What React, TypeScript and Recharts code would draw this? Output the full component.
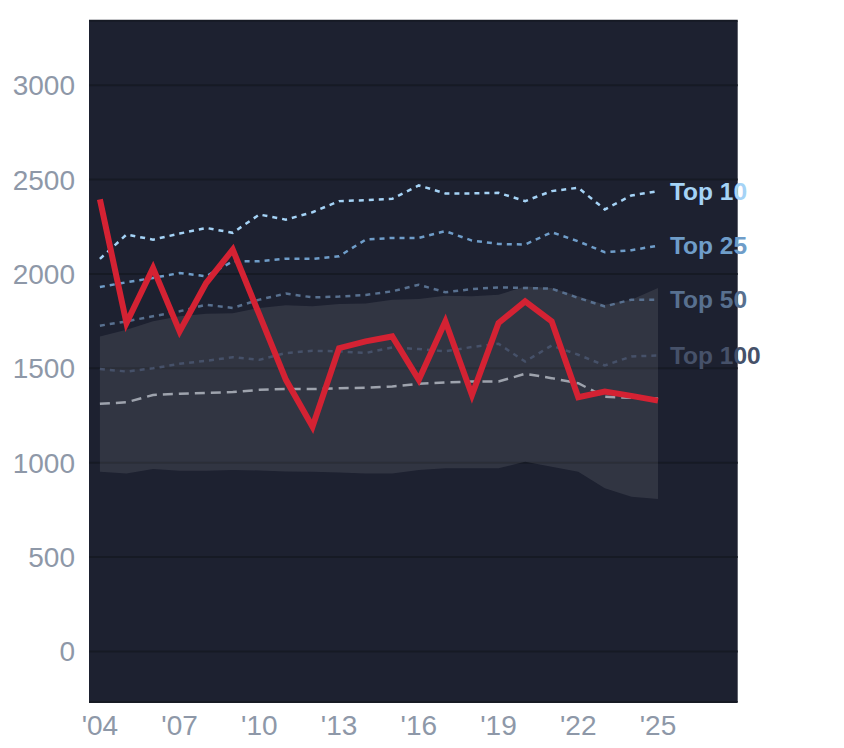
import React from "react";
import { ComposedChart, Line, Area, XAxis, YAxis, CartesianGrid } from "recharts";

const years = [2004, 2005, 2006, 2007, 2008, 2009, 2010, 2011, 2012, 2013, 2014, 2015, 2016, 2017, 2018, 2019, 2020, 2021, 2022, 2023, 2024, 2025];
const mainSeries = [2395, 1740, 2032, 1696, 1952, 2129, 1784, 1439, 1191, 1607, 1643, 1669, 1439, 1749, 1359, 1740, 1855, 1749, 1347, 1377, 1354, 1329];
const top10 = [2080, 2209, 2182, 2214, 2244, 2218, 2315, 2288, 2327, 2386, 2391, 2398, 2469, 2427, 2427, 2430, 2386, 2439, 2457, 2342, 2416, 2439];
const top25 = [1931, 1956, 1979, 2005, 1988, 2067, 2067, 2081, 2080, 2094, 2182, 2191, 2191, 2227, 2177, 2159, 2156, 2221, 2173, 2115, 2126, 2150];
const top50 = [1726, 1749, 1776, 1802, 1837, 1820, 1864, 1896, 1876, 1880, 1889, 1908, 1943, 1903, 1920, 1929, 1926, 1922, 1873, 1828, 1864, 1864];
const top100 = [1497, 1483, 1500, 1524, 1540, 1559, 1545, 1581, 1593, 1590, 1581, 1611, 1602, 1590, 1613, 1630, 1536, 1621, 1572, 1515, 1563, 1568];
const median = [1312, 1320, 1359, 1365, 1370, 1374, 1386, 1391, 1390, 1395, 1397, 1404, 1418, 1425, 1430, 1430, 1471, 1448, 1421, 1349, 1344, 1340];
const bandHigh = [1669, 1704, 1749, 1776, 1789, 1792, 1820, 1834, 1829, 1841, 1843, 1864, 1867, 1885, 1882, 1890, 1934, 1926, 1882, 1837, 1864, 1926];
const bandLow = [952, 943, 966, 957, 957, 961, 959, 954, 952, 948, 943, 943, 961, 970, 970, 970, 1005, 979, 952, 864, 819, 807];

const xTicks = [2004, 2007, 2010, 2013, 2016, 2019, 2022, 2025];
const yTicks = [0, 500, 1000, 1500, 2000, 2500, 3000];

const data = years.map((y, i) => ({
  year: y,
  main: mainSeries[i],
  top10: top10[i],
  top25: top25[i],
  top50: top50[i],
  top100: top100[i],
  median: median[i],
  band: [bandLow[i], bandHigh[i]],
}));

const FONT = "'Liberation Sans', Arial, Helvetica, sans-serif";
const TICK_COLOR = "#8e98a8";
const last = years.length - 1;

const endLabel = (text: string, color: string) => (props: any) => {
  const { x, y, index } = props;
  if (index !== last) return null;
  return (
    <text
      x={x + 12}
      y={y}
      dy="0.36em"
      fill={color}
      fontSize={24.5}
      fontWeight="bold"
      fontFamily={FONT}
      textAnchor="start"
    >
      {text}
    </text>
  );
};

export default function App() {
  return (
    <div style={{ width: 836, height: 740 }}>
      <ComposedChart
        width={836}
        height={740}
        data={data}
        margin={{ top: 12.7, right: 106.3, bottom: 0, left: 0 }}
        style={{ overflow: "visible" }}
      >
        <CartesianGrid vertical={false} fill="#1d2130" stroke="#161a24" strokeWidth={2} />
        <XAxis
          dataKey="year"
          type="number"
          domain={[2003.59, 2028]}
          allowDataOverflow
          ticks={xTicks}
          axisLine={false}
          tickLine={false}
          height={46}
          tickMargin={7}
          tickFormatter={(v: number) => "'" + String(v).slice(2)}
          tick={{ fill: TICK_COLOR, fontSize: 28, fontFamily: FONT }}
          interval={0}
        />
        <YAxis
          type="number"
          domain={[-268, 3342]}
          allowDataOverflow
          ticks={yTicks}
          axisLine={false}
          tickLine={false}
          width={81}
          tickMargin={8}
          interval={0}
          tick={{ fill: TICK_COLOR, fontSize: 28, fontFamily: FONT }}
        />
        <Area
          dataKey="band"
          type="linear"
          stroke="none"
          fill="#ffffff"
          fillOpacity={0.09}
          isAnimationActive={false}
          dot={false}
          activeDot={false}
        />
        <Line dataKey="median" type="linear" stroke="#9ea3ad" strokeWidth={2.5} strokeDasharray="10 6" dot={false} isAnimationActive={false} />
        <Line dataKey="top100" type="linear" stroke="#465169" strokeWidth={2.5} strokeDasharray="5 5" dot={false} isAnimationActive={false} label={endLabel("Top 100", "#465169")} />
        <Line dataKey="top50" type="linear" stroke="#58708f" strokeWidth={2.5} strokeDasharray="5 5" dot={false} isAnimationActive={false} label={endLabel("Top 50", "#58708f")} />
        <Line dataKey="top25" type="linear" stroke="#6f9dc9" strokeWidth={2.5} strokeDasharray="5 5" dot={false} isAnimationActive={false} label={endLabel("Top 25", "#6f9dc9")} />
        <Line dataKey="top10" type="linear" stroke="#a5d3f6" strokeWidth={2.5} strokeDasharray="5 5" dot={false} isAnimationActive={false} label={endLabel("Top 10", "#a5d3f6")} />
        <Line dataKey="main" type="linear" stroke="#d42233" strokeWidth={6} dot={false} isAnimationActive={false} />
      </ComposedChart>
    </div>
  );
}
